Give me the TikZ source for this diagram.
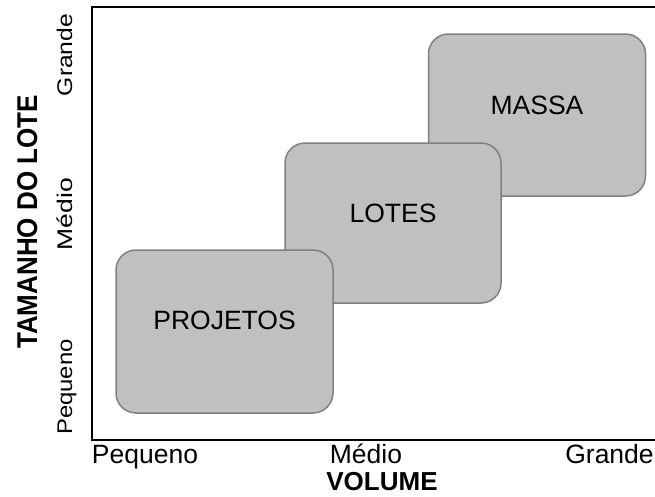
\documentclass[tikz,border=0pt]{standalone}
\usepackage{fontspec}
\setmainfont{Liberation Sans}
\definecolor{boxfill}{HTML}{C0C0C0}
\definecolor{boxline}{HTML}{808080}
\begin{document}
\begin{tikzpicture}[x=1pt,y=-1pt,
  blk/.style={draw=boxline,line width=1.5pt,fill=boxfill,rounded corners=20pt,
    minimum width=#1,inner sep=0pt},
  blk/.default=217pt,
  lbl/.style={font=\fontsize{26.5}{30}\selectfont,inner sep=0pt},
  tick/.style={font=\fontsize{26.5}{30}\selectfont,inner sep=0pt},
  ttl/.style={font=\fontsize{26}{30}\selectfont\bfseries,inner sep=0pt},
  frame/.style={line width=2pt,black}]
\useasboundingbox (0,0) rectangle (655,496);
% frame
\coordinate (tr) at (660,7);
\coordinate (tl) at (92,7);
\coordinate (bl) at (92,440);
\coordinate (br) at (660,440);
\draw[frame] (tr) -- (tl) -- (bl) -- (br);
% boxes
\node[blk, minimum height=162pt] (massa) at (537,115) {};
\node[lbl] (tmassa) at ([yshift=10pt]massa.center) {MASSA};
\node[blk, minimum width=216pt, minimum height=160pt] (lotes) at (393,223) {};
\node[lbl] (tlotes) at ([yshift=10pt]lotes.center) {LOTES};
\node[blk, minimum height=163pt] (proj) at (224.5,331.5) {};
\node[lbl] (tproj) at ([yshift=11pt]proj.center) {PROJETOS};
% x tick labels
\node[tick, anchor=base] (xp) at (145,463) {Pequeno};
\node[tick, anchor=base] (xm) at (366,463) {Médio};
\node[tick, anchor=base] (xg) at (609.5,463) {Grande};
\node[ttl, anchor=base] (xt) at (382,490.5) {VOLUME};
% y tick labels
\node[tick, rotate=90, anchor=base] (yp) at (72,387) {\scalebox{0.9}[0.8]{Pequeno}};
\node[tick, rotate=90, anchor=base] (ym) at (72,214) {\scalebox{1}[0.8]{Médio}};
\node[tick, rotate=90, anchor=base] (yg) at (72,55) {\scalebox{0.93}[0.8]{Grande}};
\node[ttl, rotate=90, anchor=base] (yt) at (37,222) {\scalebox{1}[1.1]{TAMANHO DO LOTE}};
\end{tikzpicture}
\end{document}
